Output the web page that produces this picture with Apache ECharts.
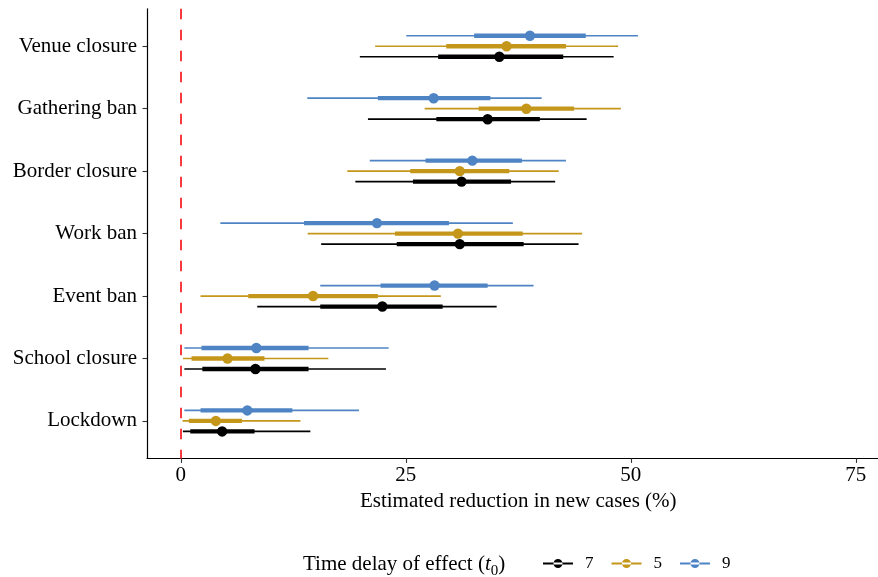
<!DOCTYPE html>
<html>
<head>
<meta charset="utf-8">
<script src="https://cdn.jsdelivr.net/npm/echarts@6/dist/echarts.min.js"></script>
<style>
html,body{margin:0;padding:0;background:#fff;}
#chart{width:878px;height:577px;}
</style>
</head>
<body>
<div id="chart"></div>
<script>
// Categories listed top to bottom
const categories = ['Venue closure','Gathering ban','Border closure','Work ban','Event ban','School closure','Lockdown'];
const xTicks = [0, 25, 50, 75];
const seriesNames = ['7', '5', '9'];

// Time delay 7 (black)
const d7Mean = [35.4, 34.1, 31.2, 31.0, 22.4, 8.3, 4.6];
const d7Lo95 = [19.9, 20.8, 19.4, 15.6, 8.5, 0.4, 0.24];
const d7Hi95 = [48.1, 45.1, 41.6, 44.2, 35.1, 22.8, 14.4];
const d7Lo50 = [28.6, 28.4, 25.8, 24.0, 15.5, 2.4, 1.06];
const d7Hi50 = [42.5, 39.9, 36.7, 38.1, 29.1, 14.2, 8.2];

// Time delay 5 (gold)
const d5Mean = [36.2, 38.4, 31.0, 30.8, 14.7, 5.2, 3.9];
const d5Lo95 = [21.6, 27.1, 18.5, 14.1, 2.2, 0.24, 0.2];
const d5Hi95 = [48.6, 48.9, 42.0, 44.6, 28.9, 16.4, 13.3];
const d5Lo50 = [29.5, 33.1, 25.5, 23.8, 7.5, 1.2, 0.9];
const d5Hi50 = [42.8, 43.7, 36.5, 38.0, 21.9, 9.3, 6.8];

// Time delay 9 (blue)
const d9Mean = [38.8, 28.1, 32.4, 21.8, 28.2, 8.4, 7.4];
const d9Lo95 = [25.06, 14.06, 21.0, 4.4, 15.5, 0.4, 0.4];
const d9Hi95 = [50.8, 40.1, 42.8, 36.9, 39.2, 23.1, 19.8];
const d9Lo50 = [32.6, 21.9, 27.2, 13.7, 22.2, 2.3, 2.2];
const d9Hi50 = [45.0, 34.4, 37.9, 29.8, 34.1, 14.2, 12.4];

const FONT = 'Liberation Serif';

function rows(mean, lo95, hi95, lo50, hi50) {
  return categories.map((c, i) => [i + 1, mean[i], lo95[i], hi95[i], lo50[i], hi50[i]]);
}

function makeRender(offset) {
  return function (params, api) {
    const y = api.value(0);
    const pm = api.coord([api.value(1), y]);
    const a = api.coord([api.value(2), y]);
    const b = api.coord([api.value(3), y]);
    const c = api.coord([api.value(4), y]);
    const d = api.coord([api.value(5), y]);
    const yy = pm[1] + offset;
    const color = api.visual('color');
    return {
      type: 'group',
      children: [
        { type: 'line', shape: { x1: a[0], y1: yy, x2: b[0], y2: yy }, style: { stroke: color, lineWidth: 1.7, lineCap: 'butt' } },
        { type: 'line', shape: { x1: c[0], y1: yy, x2: d[0], y2: yy }, style: { stroke: color, lineWidth: 4.3, lineCap: 'butt' } },
        { type: 'circle', shape: { cx: pm[0], cy: yy, r: 5.2 }, style: { fill: color } }
      ]
    };
  };
}

const colors = { '7': '#000000', '5': '#C4961A', '9': '#4E84C4' };
const legendIcon = 'path://M0,4.5H30V6.5H0Z M10.5,5.5A4.5,4.5 0 1 0 19.5,5.5A4.5,4.5 0 1 0 10.5,5.5Z';

const chart = echarts.init(document.getElementById('chart'), null, { renderer: 'canvas' });
chart.setOption({
  animation: false,
  backgroundColor: '#ffffff',
  grid: { left: 147, right: -11.5, top: 8.8, bottom: 118.6, containLabel: false, outerBoundsMode: 'none' },
  xAxis: {
    type: 'value',
    min: -3.75,
    max: 78.75,
    name: 'Estimated reduction in new cases (%)',
    nameLocation: 'middle',
    nameGap: 31,
    nameTextStyle: { fontFamily: FONT, fontSize: 21, color: '#000' },
    axisLine: { show: true, onZero: false, lineStyle: { color: '#000', width: 1.2 } },
    axisTick: { show: true, length: 4.5, lineStyle: { color: '#333', width: 1.1 }, customValues: xTicks },
    axisLabel: { fontFamily: FONT, fontSize: 21, color: '#000', margin: 7, customValues: xTicks },
    splitLine: { show: false }
  },
  yAxis: {
    type: 'value',
    min: 0.4,
    max: 7.6,
    inverse: true,
    axisLine: { show: true, onZero: false, lineStyle: { color: '#000', width: 1.2 } },
    axisTick: { show: true, length: 4.5, lineStyle: { color: '#333', width: 1.1 }, customValues: [1, 2, 3, 4, 5, 6, 7] },
    axisLabel: {
      fontFamily: FONT, fontSize: 21, color: '#000', margin: 10,
      customValues: [1, 2, 3, 4, 5, 6, 7],
      formatter: function (v) { return categories[Math.round(v) - 1] || ''; }
    },
    splitLine: { show: false }
  },
  legend: {
    data: seriesNames.map(n => ({ name: n, icon: legendIcon })),
    left: 543,
    top: 555,
    padding: 0,
    itemWidth: 30,
    itemHeight: 11,
    itemGap: 18,
    textStyle: { fontFamily: FONT, fontSize: 17, color: '#000', padding: [0, 0, 0, 7] },
    selectedMode: false
  },
  graphic: [{
    type: 'text',
    left: 303,
    top: 554,
    style: {
      text: '{n|Time delay of effect (}{i|t}{s|0}{n|)}',
      rich: {
        n: { fontFamily: FONT, fontSize: 21, fill: '#000', verticalAlign: 'bottom', lineHeight: 23 },
        i: { fontFamily: FONT, fontSize: 21, fontStyle: 'italic', fill: '#000', verticalAlign: 'bottom', lineHeight: 23 },
        s: { fontFamily: FONT, fontSize: 15, fill: '#000', verticalAlign: 'bottom', lineHeight: 17, padding: [0, 0, -4, 0] }
      }
    }
  }],
  series: [
    {
      name: 'zero',
      type: 'line',
      data: [],
      silent: true,
      markLine: {
        silent: true,
        symbol: 'none',
        label: { show: false },
        lineStyle: { color: '#F8262A', width: 1.8, type: [10.5, 10.5] },
        data: [{ xAxis: 0 }]
      }
    },
    {
      name: '9', type: 'custom', itemStyle: { color: colors['9'] },
      renderItem: makeRender(-10.5),
      encode: { x: [1, 2, 3, 4, 5], y: 0 },
      data: rows(d9Mean, d9Lo95, d9Hi95, d9Lo50, d9Hi50)
    },
    {
      name: '5', type: 'custom', itemStyle: { color: colors['5'] },
      renderItem: makeRender(0),
      encode: { x: [1, 2, 3, 4, 5], y: 0 },
      data: rows(d5Mean, d5Lo95, d5Hi95, d5Lo50, d5Hi50)
    },
    {
      name: '7', type: 'custom', itemStyle: { color: colors['7'] },
      renderItem: makeRender(10.5),
      encode: { x: [1, 2, 3, 4, 5], y: 0 },
      data: rows(d7Mean, d7Lo95, d7Hi95, d7Lo50, d7Hi50)
    }
  ]
});
</script>
</body>
</html>
